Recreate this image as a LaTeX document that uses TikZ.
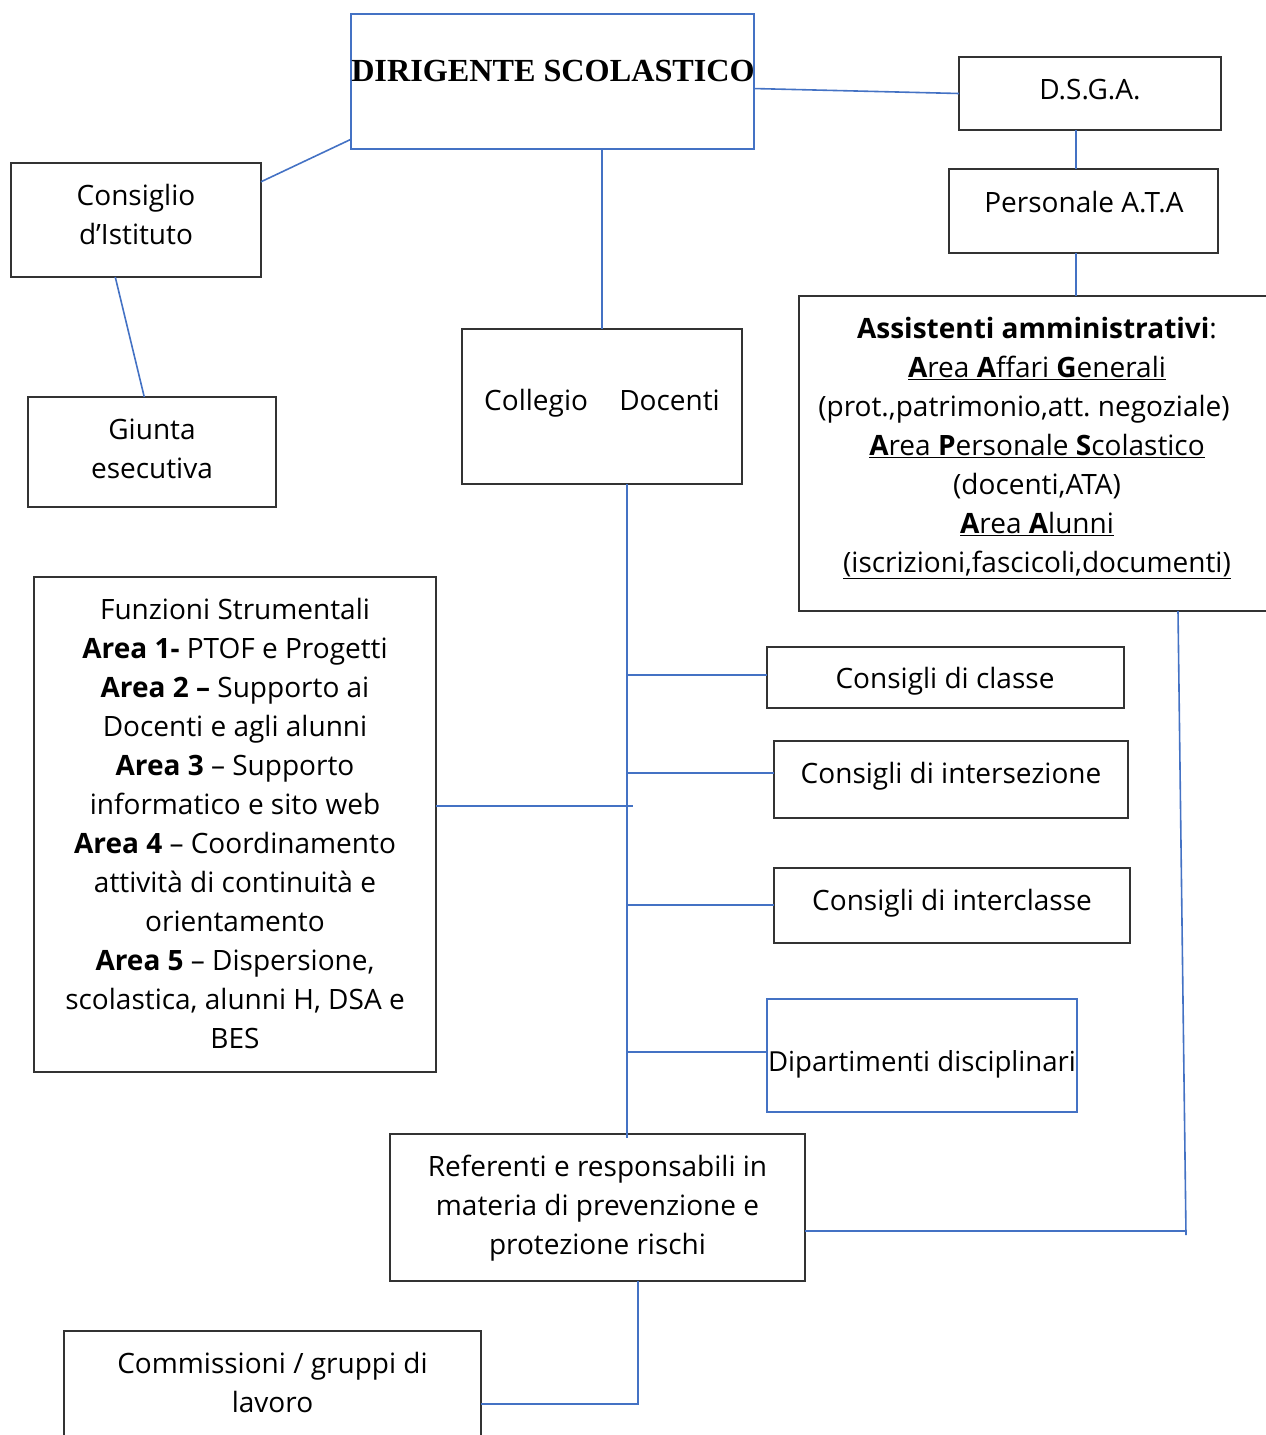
\documentclass[tikz,border=0pt]{standalone}
\usepackage{fontspec}
\setmainfont{Open Sans}
\newfontfamily\titlefont{Liberation Serif}
\usepackage{xcolor}
\frenchspacing

\definecolor{linkblue}{RGB}{68,114,196}
\tikzset{
  box/.style={draw=black!80, line width=1.1pt, inner sep=0pt, outer sep=0pt},
  bluebox/.style={box, draw=linkblue, line width=1.6pt},
  txt/.style={align=center, inner sep=0pt, font=\fontsize{28}{39}\selectfont},
  link/.style={draw=linkblue, line width=1.6pt}
}

\begin{document}
\begin{tikzpicture}[x=1pt,y=-1pt]
\useasboundingbox (0,0) rectangle (1266,1435);
\clip (0,0) rectangle (1266,1435);

% boxes
\node[bluebox, minimum width=403, minimum height=135] (dir) at (552.5,81.5) {};
\node[box, minimum width=262, minimum height=73] (dsga) at (1090,93.5) {};
\node[box, minimum width=269, minimum height=84] (ata) at (1083.5,211) {};
\node[box, minimum width=491, minimum height=315] (ass) at (1044.5,453.5) {};
\node[box, minimum width=250, minimum height=114] (cdi) at (136,220) {};
\node[box, minimum width=248, minimum height=110] (giunta) at (152,452) {};
\node[box, minimum width=280, minimum height=155] (coll) at (602,406.5) {};
\node[box, minimum width=402, minimum height=495] (fs) at (235,824.5) {};
\node[box, minimum width=357, minimum height=61] (ccl) at (945.5,677.5) {};
\node[box, minimum width=354, minimum height=77] (cis) at (951,779.5) {};
\node[box, minimum width=356, minimum height=75] (ccs) at (952,905.5) {};
\node[bluebox, minimum width=310, minimum height=113] (dip) at (922,1055.5) {};
\node[box, minimum width=415, minimum height=147] (ref) at (597.5,1207.5) {};
\node[box, minimum width=417, minimum height=129] (com) at (272.5,1395.5) {};

% texts
\node[inner sep=0pt, font=\titlefont\bfseries\fontsize{32.2}{36}\selectfont] (dirT) at (553,71) {DIRIGENTE SCOLASTICO};
\node[txt] (dsgaT) at (1090,90) {D.S.G.A.};
\node[txt] (ataT) at (1084,202) {Personale A.T.A};
\node[txt] (assT) at (1037,448) {\textbf{Assistenti amministrativi}:\\
  \underline{\textbf{A}rea \textbf{A}ffari \textbf{G}enerali}\\
  (prot.,patrimonio,att. negoziale)\kern26pt\\
  \underline{\textbf{A}rea \textbf{P}ersonale \textbf{S}colastico}\\
  (docenti,ATA)\\
  \underline{\textbf{A}rea \textbf{A}lunni}\\
  \underline{(iscrizioni,fascicoli,documenti)}};
\node[txt] (cdiT) at (136,214) {Consiglio\\d’Istituto};
\node[txt] (giuntaT) at (152,449) {Giunta\\esecutiva};
\node[txt] (collT) at (602,403) {Collegio\hspace{24pt} Docenti};
\node[txt] (fsT) at (235,823) {Funzioni Strumentali\\
  \textbf{Area 1-} PTOF e Progetti\\
  \textbf{Area 2 –} Supporto ai\\
  Docenti e agli alunni\\
  \textbf{Area 3} – Supporto\\
  informatico e sito web\\
  \textbf{Area 4} – Coordinamento\\
  attività di continuità e\\
  orientamento\\
  \textbf{Area 5} – Dispersione,\\
  scolastica, alunni H, DSA e\\
  BES};
\node[txt] (cclT) at (945,681) {Consigli di classe};
\node[txt] (cisT) at (951,776) {Consigli di intersezione};
\node[txt] (ccsT) at (952,903) {Consigli di interclasse};
\node[txt, font=\fontsize{27.6}{39}\selectfont] (dipT) at (922,1064) {Dipartimenti disciplinari};
\node[txt] (refT) at (597.5,1208) {Referenti e responsabili in\\materia di prevenzione e\\protezione rischi};
\node[txt] (comT) at (272.5,1382) {Commissioni / gruppi di\\lavoro};

% connectors
\coordinate (trunk) at ([xshift=25]coll.south);
\coordinate (rcorner) at (1186,1231);
\draw[link] (dir.-2) -- (dsga.west);
\draw[link] (dir.196) -- (cdi.17);
\draw[link] (cdi.-110) -- (giunta.98);
\draw[link] (coll.north |- dir.south) -- (coll.north);
\draw[link] ([xshift=-14]dsga.south) -- ([xshift=-14]dsga.south |- ata.north);
\draw[link] ([xshift=-7.5]ata.south) -- ([xshift=-7.5]ata.south |- ass.north);
\draw[link] (trunk) -- ([yshift=-4]trunk |- ref.north);
\draw[link] ([yshift=2.5]trunk |- ccl.west) -- ([yshift=2.5]ccl.west);
\draw[link] ([yshift=6.5]trunk |- cis.west) -- ([yshift=6.5]cis.west);
\draw[link] ([yshift=0.5]trunk |- ccs.west) -- ([yshift=0.5]ccs.west);
\draw[link] ([yshift=3.5]trunk |- dip.west) -- ([yshift=3.5]dip.west);
\draw[link] ([yshift=18.5]fs.east) -- ([xshift=6,yshift=18.5]trunk |- fs.east);
\draw[link] ([xshift=133.5]ass.south) -- ([yshift=-4]rcorner);
\draw[link] ([yshift=-23.5]ref.east) -- (rcorner);
\draw[link] ([xshift=40.5]ref.south) |- ([yshift=-8.5]com.east);
\end{tikzpicture}
\end{document}
